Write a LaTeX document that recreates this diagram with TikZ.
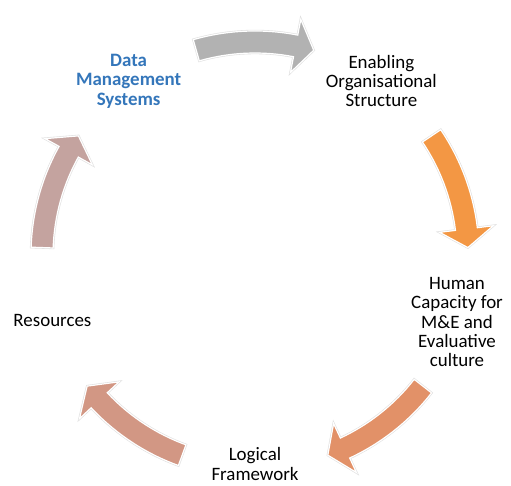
\documentclass[tikz,border=0pt]{standalone}
\usepackage{fontspec}
\setmainfont{Carlito}
\usetikzlibrary{positioning}
\definecolor{mygray}{RGB}{178,178,178}
\definecolor{myorange}{RGB}{243,151,68}
\definecolor{mycoral}{RGB}{226,145,104}
\definecolor{myrose}{RGB}{210,151,132}
\definecolor{mymauve}{RGB}{196,163,159}
\definecolor{myblue}{RGB}{52,118,186}

% curved block arrow on the ring, #1 = middle angle, #2 = colour
\newcommand{\ringarrow}[2]{%
	\filldraw[fill=#2, draw=white, line width=1.2pt, preaction={draw=black!12, line width=2.4pt}]
	({#1+16}:202bp) arc[start angle={#1+16}, end angle={#1-11}, radius=202bp]
	-- ({#1-11}:186bp) -- ({#1-16}:213bp) -- ({#1-11}:240bp) -- ({#1-11}:224bp)
	arc[start angle={#1-11}, end angle={#1+16}, radius=224bp] -- cycle;}

\begin{document}
\begin{tikzpicture}[txt/.style={align=center, inner sep=0pt, font=\fontsize{19}{19.5}\selectfont}]
	\useasboundingbox (-255bp,-231bp) rectangle (256bp,255bp);
	
	\node[txt, font=\fontsize{19}{19.5}\selectfont\bfseries, text=myblue] (dms) at (126:215bp) {Data\\Management\\Systems};
	\node[txt] (eos) at (54:215bp) {Enabling\\Organisational\\Structure};
	\node[txt] (hc) at (202bp,-67bp) {Human\\Capacity for\\M\&E and\\Evaluative\\culture};
	\node[txt] (lf) at (0bp,-209bp) {Logical\\Framework};
	\node[txt] (res) at (198:213bp) {Resources};
	
	\ringarrow{90}{mygray}
	\ringarrow{18}{myorange}
	\ringarrow{-54}{mycoral}
	\ringarrow{-126}{myrose}
	\ringarrow{-198}{mymauve}
	
\end{tikzpicture}
\end{document}
